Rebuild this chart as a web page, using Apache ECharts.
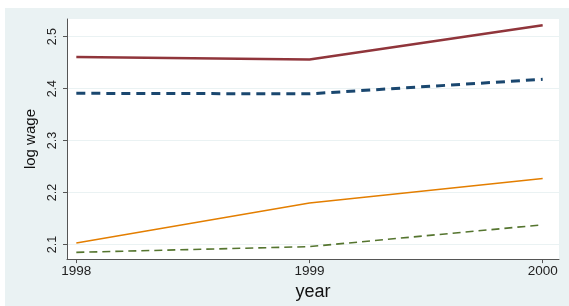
<!DOCTYPE html>
<html>
<head>
<meta charset="utf-8">
<script src="https://cdn.jsdelivr.net/npm/echarts@6/dist/echarts.min.js"></script>
<style>
  html, body { margin: 0; padding: 0; background: #fff; }
  #chart { width: 569px; height: 306px; }
</style>
</head>
<body>
<div id="chart"></div>
<script>
const years = [1998, 1999, 2000];
const yTicks = [2.1, 2.2, 2.3, 2.4, 2.5];

const seriesRed = [2.461, 2.456, 2.522];
const seriesNavy = [2.391, 2.390, 2.418];
const seriesOrange = [2.103, 2.180, 2.227];
const seriesGreen = [2.085, 2.096, 2.138];

const toPoints = (vals) => years.map((yr, i) => [yr, vals[i]]);

const chart = echarts.init(document.getElementById('chart'));

const font = 'Liberation Sans, Arial, sans-serif';

const option = {
  animation: false,
  graphic: [
    {
      type: 'rect',
      z: -10,
      shape: { x: 5, y: 8, width: 564, height: 298 },
      style: { fill: '#eaf2f3' },
    },
  ],
  grid: {
    show: true,
    left: 67,
    top: 19,
    right: 10,
    bottom: 40,
    backgroundColor: '#ffffff',
    borderWidth: 0,
  },
  xAxis: {
    type: 'value',
    min: 1997.96,
    max: 2000.07,
    name: 'year',
    nameLocation: 'middle',
    nameGap: 17,
    nameTextStyle: { fontFamily: font, fontSize: 18, color: '#111' },
    axisLine: { show: true, lineStyle: { color: '#555', width: 1 } },
    axisTick: { show: true, length: 4, customValues: years, lineStyle: { color: '#555' } },
    axisLabel: {
      customValues: years,
      fontFamily: font,
      fontSize: 13.5,
      color: '#222',
      margin: 5,
      formatter: (v) => String(v),
    },
    splitLine: { show: false },
  },
  yAxis: {
    type: 'value',
    min: 2.072,
    max: 2.534,
    name: 'log wage',
    nameLocation: 'middle',
    nameGap: 27,
    nameRotate: 90,
    nameTextStyle: { fontFamily: font, fontSize: 15, color: '#111' },
    axisLine: { show: true, lineStyle: { color: '#555', width: 1 } },
    axisTick: { show: true, length: 4, customValues: yTicks, lineStyle: { color: '#555' } },
    axisLabel: {
      customValues: yTicks,
      rotate: 90,
      fontFamily: font,
      fontSize: 12.5,
      color: '#222',
      margin: 8,
      formatter: (v) => v.toFixed(1),
    },
    splitLine: { show: true, lineStyle: { color: '#eaf2f3', width: 1 } },
  },
  series: [
    {
      type: 'line',
      data: toPoints(seriesRed),
      showSymbol: false,
      lineStyle: { color: '#90353b', width: 2.5 },
    },
    {
      type: 'line',
      data: toPoints(seriesNavy),
      showSymbol: false,
      lineStyle: { color: '#1a476f', width: 3, type: [9, 6] },
    },
    {
      type: 'line',
      data: toPoints(seriesOrange),
      showSymbol: false,
      lineStyle: { color: '#e37e00', width: 1.6 },
    },
    {
      type: 'line',
      data: toPoints(seriesGreen),
      showSymbol: false,
      lineStyle: { color: '#55752f', width: 1.6, type: [8, 5] },
    },
  ],
};

chart.setOption(option);
</script>
</body>
</html>
